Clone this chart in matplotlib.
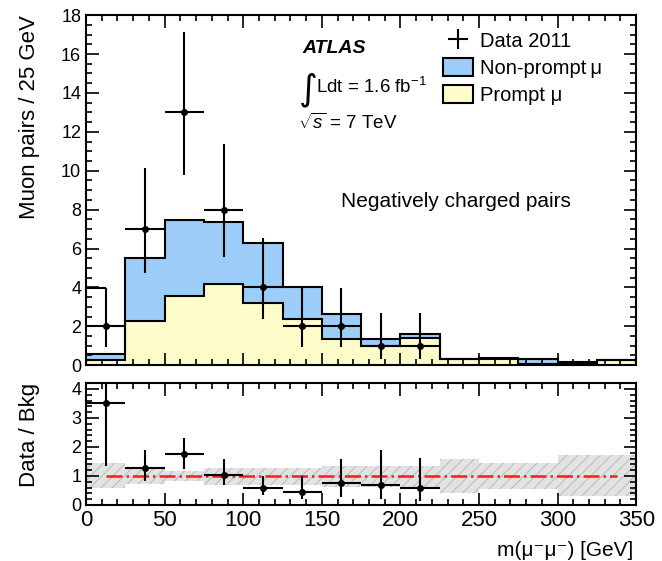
import numpy as np
import matplotlib
matplotlib.use("Agg")
import matplotlib.pyplot as plt
from matplotlib.patches import Patch
from matplotlib.ticker import MultipleLocator

plt.rcParams["font.family"] = ["Liberation Sans", "DejaVu Sans"]
plt.rcParams["mathtext.fontset"] = "custom"
plt.rcParams["mathtext.rm"] = "Liberation Sans"
plt.rcParams["mathtext.it"] = "Liberation Sans:italic"
plt.rcParams["mathtext.bf"] = "Liberation Sans:bold"
plt.rcParams["hatch.linewidth"] = 0.6

# --- data ---
edges = np.arange(0, 375, 25)          # 14 bins of 25 GeV
prompt   = [0.25, 2.28, 3.57, 4.17, 3.21, 2.40, 1.34, 1.00, 1.40, 0.32, 0.30, 0.05, 0.12, 0.25]
total    = [0.57, 5.49, 7.46, 7.37, 6.29, 4.00, 2.62, 1.37, 1.60, 0.34, 0.36, 0.32, 0.14, 0.27]

data_x   = [12.5, 37.5, 62.5, 87.5, 112.5, 137.5, 162.5, 187.5, 212.5]
data_y   = [2, 7, 13, 8, 4, 2, 2, 1, 1]
data_lo  = [0.94, 4.75, 9.77, 5.54, 2.37, 0.94, 0.94, 0.30, 0.30]
data_hi  = [3.95, 10.15, 17.15, 11.37, 6.55, 3.95, 3.95, 2.66, 2.66]

ratio_y  = [3.52, 1.28, 1.74, 1.04, 0.58, 0.46, 0.74, 0.67, 0.59]
ratio_lo = [1.35, 0.82, 1.23, 0.68, 0.34, 0.20, 0.28, 0.20, 0.13]
ratio_hi = [6.00, 1.91, 2.32, 1.57, 1.00, 1.00, 1.57, 1.91, 1.63]

band_lo  = [0.58, 0.71, 0.82, 0.70, 0.70, 0.70, 0.62, 0.62, 0.62, 0.42, 0.55, 0.55, 0.30, 0.30]
band_hi  = [1.44, 1.29, 1.17, 1.29, 1.29, 1.29, 1.33, 1.33, 1.33, 1.57, 1.45, 1.45, 1.72, 1.72]

BLUE = "#9ccdf8"
YELLOW = "#fefcca"
RED = "#ff1a1a"

fig = plt.figure(figsize=(6.62, 5.61), dpi=100)
ax = fig.add_axes([0.130, 0.349, 0.831, 0.624])
axr = fig.add_axes([0.130, 0.100, 0.831, 0.217])


def root_ticks(a, xmin, ymaj, ymin):
    a.xaxis.set_major_locator(MultipleLocator(50))
    a.xaxis.set_minor_locator(MultipleLocator(xmin))
    a.yaxis.set_major_locator(MultipleLocator(ymaj))
    a.yaxis.set_minor_locator(MultipleLocator(ymin))
    a.tick_params(which="both", direction="in", top=True, right=True,
                  width=1.2, labelsize=13)
    a.tick_params(which="major", length=9)
    a.tick_params(which="minor", length=4.5)
    for s in a.spines.values():
        s.set_linewidth(1.5)


# --- main panel ---
ax.stairs(prompt, edges, baseline=0, fill=True, color=YELLOW, zorder=1)
ax.stairs(total, edges, baseline=prompt, fill=True, color=BLUE, zorder=1)
ax.stairs(prompt, edges, baseline=0, color="black", lw=1.5, zorder=2)
ax.stairs(total, edges, baseline=0, color="black", lw=1.5, zorder=2)

yerr = [np.subtract(data_y, data_lo), np.subtract(data_hi, data_y)]
ax.errorbar(data_x, data_y, xerr=12.5, yerr=yerr, fmt="o", color="black",
            ms=4, lw=1.5, capsize=0, zorder=3)
ax.hlines(data_hi[0], 0, data_x[0], color="black", lw=1.5, zorder=3)

ax.set_xlim(0, 350)
ax.set_ylim(0, 18)
root_ticks(ax, 10, 2, 0.5)
ax.tick_params(labelbottom=False)
ax.set_ylabel("Muon pairs / 25 GeV", fontsize=16, loc="top")
ax.yaxis.set_label_coords(-0.084, 1.0)

ax.text(137.5, 16.3, "ATLAS", fontsize=14, fontweight="bold", style="italic",
        va="center")
ax.text(135.5, 14.15, "\u222b", fontsize=26, va="center",
        family="DejaVu Sans")
ax.text(146, 14.3, r"Ldt = 1.6 fb$^{-1}$", fontsize=13.5, va="center")
ax.text(135, 12.45, r"$\sqrt{s}$ = 7 TeV", fontsize=13.5, va="center")
ax.text(235.5, 8.4, "Negatively charged pairs", fontsize=15, ha="center",
        va="center")

h_data = ax.errorbar([], [], xerr=1, yerr=1, fmt="none", color="black", lw=1.5)
handles = [h_data,
           Patch(facecolor=BLUE, edgecolor="black", lw=1.5),
           Patch(facecolor=YELLOW, edgecolor="black", lw=1.5)]
labels = ["Data 2011", "Non-prompt\u2009\u03bc", "Prompt \u03bc"]
ax.legend(handles, labels, loc="upper left", bbox_to_anchor=(0.649, 0.955),
          frameon=False, fontsize=14.5, handlelength=1.5, handleheight=1.0,
          handletextpad=0.35, labelspacing=0.35, borderpad=0,
          borderaxespad=0)

# --- ratio panel ---
band_x = list(edges)
axr.fill_between(band_x, band_lo + band_lo[-1:], band_hi + band_hi[-1:],
                 step="post", facecolor="#e2e2e2", edgecolor="#b4b4b4",
                 hatch="///", lw=0, zorder=1)
axr.plot([data_x[0], 337.5], [1, 1], color=RED, ls="-.", lw=1.8, zorder=2)
rerr = [np.subtract(ratio_y, ratio_lo), np.subtract(ratio_hi, ratio_y)]
axr.errorbar(data_x, ratio_y, xerr=12.5, yerr=rerr, fmt="o", color="black",
             ms=4, lw=1.5, capsize=0, zorder=3)
axr.set_xlim(0, 350)
axr.set_ylim(0, 4.2)
root_ticks(axr, 10, 1, 0.2)
axr.tick_params(axis="x", labelsize=16, pad=4)
axr.set_ylabel("Data / Bkg", fontsize=16, loc="top")
axr.yaxis.set_label_coords(-0.084, 1.0)
axr.set_xlabel("m(\u03bc\u207b\u03bc\u207b) [GeV]", fontsize=15, loc="right")
axr.xaxis.set_label_coords(0.995, -0.30)

fig.savefig("out.png", dpi=100)
